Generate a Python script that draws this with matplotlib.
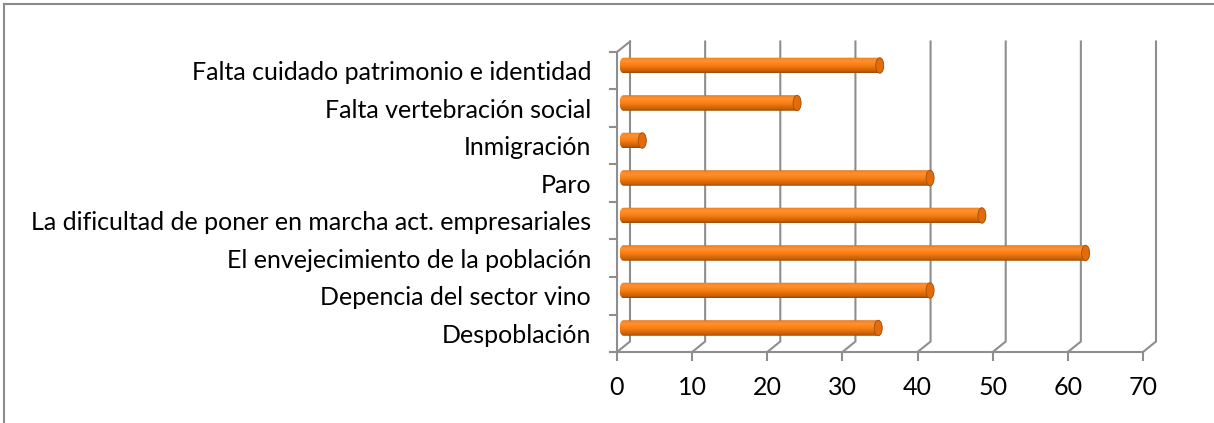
import numpy as np
import matplotlib
matplotlib.use("Agg")
import matplotlib.pyplot as plt
from matplotlib.colors import LinearSegmentedColormap
from matplotlib.patches import Polygon, Ellipse
from matplotlib.lines import Line2D

# data (bottom to top as drawn)
categories = [
    "Despoblación",
    "Depencia del sector vino",
    "El envejecimiento de la población",
    "La dificultad de poner en marcha act. empresariales",
    "Paro",
    "Inmigración",
    "Falta vertebración social",
    "Falta cuidado patrimonio e identidad",
]
values = [33.9, 40.8, 61.5, 47.7, 40.8, 2.5, 23.1, 34.1]
xticks = [0, 10, 20, 30, 40, 50, 60, 70]

plt.rcParams['font.family'] = ['Lato', 'DejaVu Sans']

W, H = 1214, 423
fig = plt.figure(figsize=(W / 100, H / 100), dpi=100)

# axes placed so x=0..70 covers the front floor edge
x0px, x1px, ybot, ytop = 617, 1143, 352, 52
ax = fig.add_axes([x0px / W, (H - ybot) / H, (x1px - x0px) / W, (ybot - ytop) / H])
ax.axis('off')

pxx = (x1px - x0px) / 70.0        # pixels per x unit
pxy = (ybot - ytop) / 8.0         # pixels per category
dx = 13 / pxx                     # depth offset
dy = 10.5 / pxy
grid_c = '#8e8e8e'
lw = 1.5

# walls / gridlines
for v in xticks:
    ax.plot([v, v + dx, v + dx], [0, dy, 8 + dy], color=grid_c, lw=lw,
            clip_on=False, solid_joinstyle='miter')
    ax.plot([v, v], [0, -8 / pxy], color=grid_c, lw=lw, clip_on=False)
ax.plot([0, 70], [0, 0], color=grid_c, lw=lw, clip_on=False)
ax.plot([0, 0, dx], [0, 8, 8 + dy], color=grid_c, lw=lw, clip_on=False)
for k in range(9):
    ax.plot([-7 / pxx, 0], [k, k], color=grid_c, lw=lw, clip_on=False)

# cylinder bars
cmap = LinearSegmentedColormap.from_list('cyl', [
    (0.0, '#9a4805'), (0.12, '#c45f08'), (0.45, '#f77c10'),
    (0.75, '#ff9030'), (0.9, '#fb8a24'), (1.0, '#d56a0c')])
grad = np.linspace(0, 1, 64).reshape(-1, 1)
bh = 15.5 / pxy
a = 4.0 / pxx
xs = dx / 2
t = np.linspace(0, np.pi, 30)
for i, v in enumerate(values):
    c = i + 0.5 + dy / 2
    xe = xs + v
    left = np.column_stack([xs - a * np.sin(t), c + bh / 2 * np.cos(t)])
    right = np.column_stack([xe + a * np.sin(t), c - bh / 2 * np.cos(t)])
    poly = Polygon(np.vstack([left, right]), closed=True, facecolor='none',
                   edgecolor='none', transform=ax.transData)
    ax.add_patch(poly)
    im = ax.imshow(grad, cmap=cmap, origin='lower', aspect='auto',
                   extent=[xs - a, xe + a, c - bh / 2, c + bh / 2],
                   interpolation='bilinear', zorder=3)
    im.set_clip_path(poly)
    cap = Ellipse((xe, c), 2 * a, bh, facecolor='#e06c0c', edgecolor='#a5500a',
                  lw=0.6, zorder=4)
    ax.add_patch(cap)

# labels
for i, lab in enumerate(categories):
    ax.text((591 - x0px) / pxx, i + 0.45, lab, ha='right', va='center',
            fontsize=18, color='#000000', clip_on=False)
for v in xticks:
    ax.text(v, (ybot - 387) / pxy, str(v), ha='center', va='center',
            fontsize=18, color='#000000', clip_on=False)

ax.set_xlim(0, 70)
ax.set_ylim(0, 8)

# chart border (only left and top visible)
fig.add_artist(Line2D([3.5 / W, 3.5 / W], [0, 1 - 4.5 / H], color='#8c8c8c', lw=1.5))
fig.add_artist(Line2D([3.5 / W, 1], [1 - 4.5 / H, 1 - 4.5 / H], color='#8c8c8c', lw=1.5))

fig.savefig('out.png', dpi=100)
